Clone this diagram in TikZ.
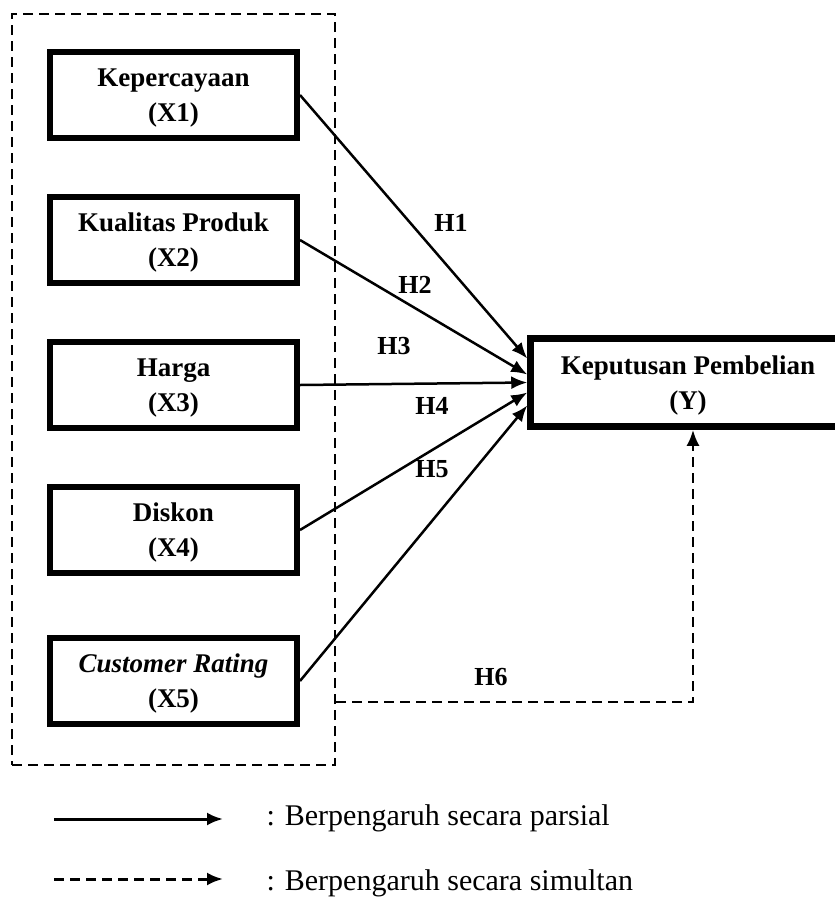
\documentclass[tikz,border=0pt]{standalone}
\usepackage{fontspec}
\setmainfont{Liberation Serif}
\usetikzlibrary{arrows.meta,positioning}

\begin{document}
\begin{tikzpicture}[x=1pt,y=-1pt,>={Latex[length=16pt,width=13pt]},node distance=53pt,
                    line width=2.5pt]
  \tikzstyle{varbox}=[draw,line width=6pt,minimum width=247pt,minimum height=86pt,
                      align=center,text depth=0pt,font=\bfseries\fontsize{27}{35}\selectfont]
  \tikzstyle{hyp}=[font=\bfseries\fontsize{26}{30}\selectfont]
  \tikzstyle{sim}=[dash pattern=on 10pt off 6pt]
  \tikzstyle{legend}=[font=\fontsize{30}{36}\selectfont,anchor=base west]

  \useasboundingbox (0,0) rectangle (835,906);

  \node[draw,sim,line width=2.7pt,minimum width=323pt,minimum height=751pt] (grp) at (173.5,389.5) {};

  \node[varbox] (x1) at (173.5,95) {Kepercayaan\\(X1)};
  \node[varbox] (x2) [below=of x1]    {Kualitas Produk\\(X2)};
  \node[varbox] (x3) [below=of x2]    {Harga\\(X3)};
  \node[varbox] (x4) [below=of x3]    {Diskon\\(X4)};
  \node[varbox] (x5) [below=59pt of x4] {\textit{Customer Rating}\\(X5)};
  \node[varbox,line width=6.5pt,minimum width=315pt,minimum height=88pt]
        (y) at (688,382.5) {Keputusan Pembelian\\(Y)};

  \draw[->] (x1.east) -- ([yshift=24pt]y.west);
  \draw[->] (x2.east) -- ([yshift=8pt]y.west);
  \draw[->] (x3.east) -- (y.west);
  \draw[->] (x4.east) -- ([yshift=-10pt]y.west);
  \draw[->] (x5.east) -- ([yshift=-23pt]y.west);

  \node[hyp] (h1) at (451,223) {H1};
  \node[hyp] (h2) at (415,285) {H2};
  \node[hyp] (h3) at (394,346) {H3};
  \node[hyp] (h4) at (432,406) {H4};
  \node[hyp] (h5) at (432,469) {H5};
  \node[hyp] (h6) at (491,677) {H6};

  % simultaneous effect
  \coordinate (h6turn) at (693,702);
  \draw[sim,->,line width=2.7pt] (grp.east |- h6turn) -- (h6turn) -- (h6turn |- y.south);

  % legend
  \coordinate (solidA) at (54,819);
  \coordinate (solidB) at (223,819);
  \draw[->,line width=3pt] (solidA) -- (solidB);
  \node[legend] (parsial) at (262,825) {: Berpengaruh secara parsial};
  \coordinate (dashA) at (54,879);
  \coordinate (dashB) at (223,879);
  \draw[sim,->,line width=3pt] (dashA) -- (dashB);
  \node[legend] (simultan) at (262,890) {: Berpengaruh secara simultan};
\end{tikzpicture}
\end{document}
